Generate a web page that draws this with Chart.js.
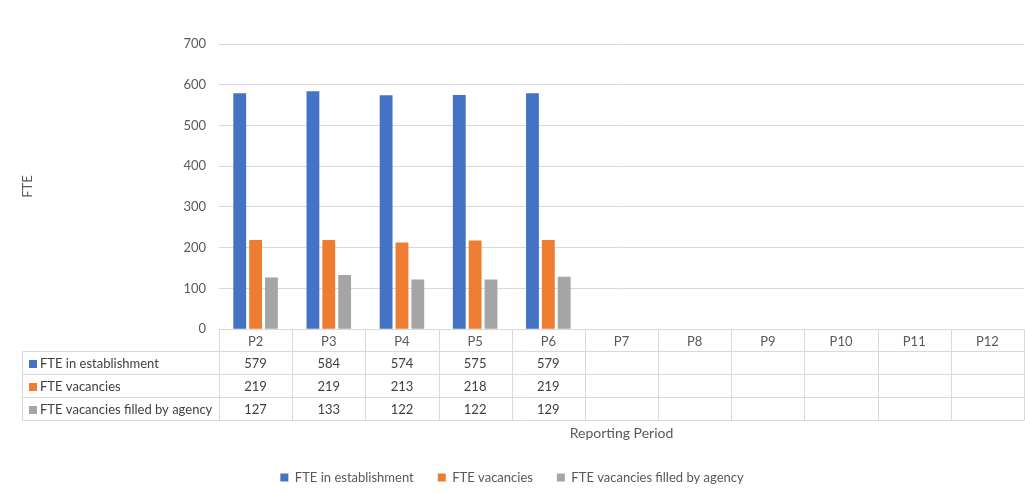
<!DOCTYPE html>
<html>
<head>
<meta charset="utf-8">
<script src="https://cdn.jsdelivr.net/npm/chart.js@4/dist/chart.umd.min.js"></script>
<style>
  html, body { margin: 0; padding: 0; background: #fff; }
  #wrap { width: 1025px; height: 494px; }
</style>
</head>
<body>
<div id="wrap"><canvas id="fteChart" width="1025" height="494"></canvas></div>
<script>
// chart data
const periods = ['P2', 'P3', 'P4', 'P5', 'P6', 'P7', 'P8', 'P9', 'P10', 'P11', 'P12'];
const establishment = [579, 584, 574, 575, 579, null, null, null, null, null, null];
const vacancies = [219, 219, 213, 218, 219, null, null, null, null, null, null];
const agencyFilled = [127, 133, 122, 122, 129, null, null, null, null, null, null];
const seriesNames = ['FTE in establishment', 'FTE vacancies', 'FTE vacancies filled by agency'];
const yTicks = [0, 100, 200, 300, 400, 500, 600, 700];

const colors = ['#4472C4', '#ED7D31', '#A5A5A5'];
const textColor = '#595959';
const lineColor = '#D9D9D9';
const fontFamily = 'Lato, "Liberation Sans", sans-serif';

// data table drawn under the plot, columns follow the x scale
const dataTable = {
  id: 'dataTable',
  afterDraw(chart) {
    const ctx = chart.ctx;
    const x = chart.scales.x;
    const area = chart.chartArea;
    const colW = (area.right - area.left) / periods.length;
    const rows = [establishment, vacancies, agencyFilled];
    const top = Math.round(area.bottom) + 0.5;
    const headH = 22;
    const rowH = 23;
    const tableLeft = 22.5;
    const bottom = top + headH + rowH * rows.length;

    ctx.save();
    ctx.strokeStyle = lineColor;
    ctx.lineWidth = 1;

    // horizontal lines
    ctx.beginPath();
    ctx.moveTo(area.left, top);
    ctx.lineTo(area.right, top);
    for (let r = 0; r <= rows.length; r++) {
      const y = top + headH + rowH * r;
      ctx.moveTo(tableLeft, y);
      ctx.lineTo(area.right, y);
    }
    // vertical lines
    ctx.moveTo(tableLeft, top + headH);
    ctx.lineTo(tableLeft, bottom);
    for (let i = 0; i <= periods.length; i++) {
      const vx = Math.round(x.getPixelForValue(i) - colW / 2) + 0.5;
      ctx.moveTo(vx, top);
      ctx.lineTo(vx, bottom);
    }
    ctx.stroke();

    ctx.textBaseline = 'middle';
    ctx.font = '13px ' + fontFamily;
    // header labels
    ctx.fillStyle = textColor;
    ctx.textAlign = 'center';
    periods.forEach((p, i) => {
      ctx.fillText(p, x.getPixelForValue(i), top + headH / 2 + 1);
    });
    // rows
    rows.forEach((vals, r) => {
      const cy = top + headH + rowH * r + rowH / 2 + 1;
      ctx.fillStyle = colors[r];
      ctx.fillRect(29, Math.round(cy - 4), 8, 8);
      ctx.fillStyle = '#404040';
      ctx.textAlign = 'left';
      ctx.fillText(seriesNames[r], 40, cy);
      ctx.textAlign = 'center';
      vals.forEach((v, i) => {
        if (v !== null) ctx.fillText(String(v), x.getPixelForValue(i), cy);
      });
    });
    ctx.restore();
  }
};

new Chart(document.getElementById('fteChart'), {
  type: 'bar',
  data: {
    labels: periods,
    datasets: [
      { label: seriesNames[0], data: establishment, backgroundColor: colors[0] },
      { label: seriesNames[1], data: vacancies, backgroundColor: colors[1] },
      { label: seriesNames[2], data: agencyFilled, backgroundColor: colors[2] }
    ]
  },
  options: {
    responsive: false,
    animation: false,
    layout: { padding: { top: 44, right: 1, left: 0, bottom: 0 } },
    datasets: { bar: { categoryPercentage: 0.65, barPercentage: 0.81 } },
    plugins: {
      legend: {
        position: 'bottom',
        labels: {
          boxWidth: 8, boxHeight: 8, padding: 24,
          color: textColor,
          font: { family: fontFamily, size: 13 }
        }
      },
      tooltip: { enabled: false }
    },
    scales: {
      x: {
        grid: { display: false },
        border: { display: false },
        ticks: { display: false },
        title: {
          display: true, text: 'Reporting Period', color: textColor,
          font: { family: fontFamily, size: 14 },
          padding: { top: 88, bottom: 5 }
        }
      },
      y: {
        min: 0, max: 700,
        afterBuildTicks(scale) { scale.ticks = yTicks.map(v => ({ value: v })); },
        afterFit(scale) { scale.width = 219; },
        grid: { color: lineColor, drawTicks: false },
        border: { display: false },
        ticks: { color: textColor, padding: 13, font: { family: fontFamily, size: 13 } },
        title: {
          display: true, text: 'FTE', color: textColor,
          font: { family: fontFamily, size: 13 },
          padding: { top: 20, bottom: 0 }
        }
      }
    }
  },
  plugins: [dataTable]
});
</script>
</body>
</html>
